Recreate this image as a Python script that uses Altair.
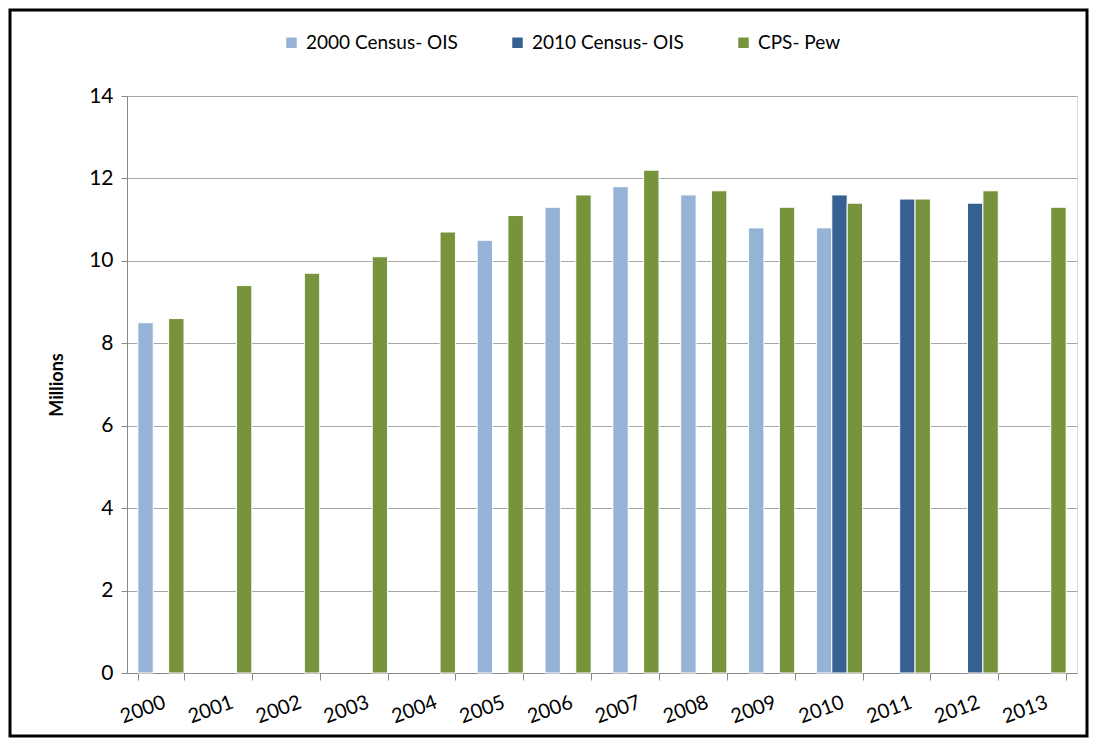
import altair as alt
import pandas as pd

years = [str(y) for y in range(2000, 2014)]
series_names = ["2000 Census- OIS", "2010 Census- OIS", "CPS- Pew"]
colors = ["#95B3D7", "#376092", "#77933C"]

census2000 = [8.5, None, None, None, None, 10.5, 11.3, 11.8, 11.6, 10.8, 10.8, None, None, None]
census2010 = [None, None, None, None, None, None, None, None, None, None, 11.6, 11.5, 11.4, None]
cps_pew = [8.6, 9.4, 9.7, 10.1, 10.7, 11.1, 11.6, 12.2, 11.7, 11.3, 11.4, 11.5, 11.7, 11.3]

rows = []
for name, vals in zip(series_names, [census2000, census2010, cps_pew]):
    for y, v in zip(years, vals):
        if v is not None:
            rows.append({"Year": y, "Series": name, "Value": v})
df = pd.DataFrame(rows)

W, H = 950, 577
FONT = "Lato"

bars = alt.Chart(df).mark_bar(stroke="white", strokeWidth=1).encode(
    x=alt.X("Year:N", sort=years, scale=alt.Scale(domain=years, paddingInner=0.32, paddingOuter=0.16),
            axis=alt.Axis(title=None, tickBand="extent", labelAngle=340, labelAlign="right",
                          labelBaseline="top", labelPadding=12, labelFontSize=20, labelFont=FONT,
                          labelColor="#000000", domainColor="#888888", tickColor="#888888",
                          tickSize=7, grid=False, labelOverlap=False)),
    xOffset=alt.XOffset("Series:N", scale=alt.Scale(domain=series_names, paddingInner=0, paddingOuter=0)),
    y=alt.Y("Value:Q", scale=alt.Scale(domain=[0, 14]),
            axis=alt.Axis(title="Millions", values=[0, 2, 4, 6, 8, 10, 12, 14], grid=True,
                          gridColor="#A6A6A6", gridWidth=1, domainColor="#888888", tickColor="#888888",
                          tickSize=6, labelPadding=8, labelFontSize=21, labelFont=FONT, labelColor="#000000",
                          titleFont=FONT, titleFontSize=18, titleFontWeight="bold", titleColor="#000000",
                          titleX=-70, titleY=H / 2, titleAngle=270, titleBaseline="middle",
                          titleAlign="center")),
    color=alt.Color("Series:N", scale=alt.Scale(domain=series_names, range=colors),
                    legend=alt.Legend(title=None, orient="none", legendX=155, legendY=-63,
                                      direction="horizontal", columns=3, symbolType="square",
                                      symbolSize=110, symbolStrokeWidth=0, labelFont=FONT,
                                      labelFontSize=19, labelColor="#000000", labelOffset=5,
                                      columnPadding=50)),
)

frame = alt.Chart(alt.Data(values=[{}])).mark_rect(fill=None, stroke="black", strokeWidth=3).encode(
    x=alt.value(-117), x2=alt.value(W + 10), y=alt.value(-86), y2=alt.value(H + 63)
)

chart = alt.layer(bars, frame).properties(
    width=W, height=H,
    autosize=alt.AutoSizeParams(type="none"),
    padding={"left": 119, "top": 88, "right": 12, "bottom": 65},
).configure_view(stroke=None).configure(background="white")

chart.save("out.html", embed_options={"renderer": "svg", "actions": False})
